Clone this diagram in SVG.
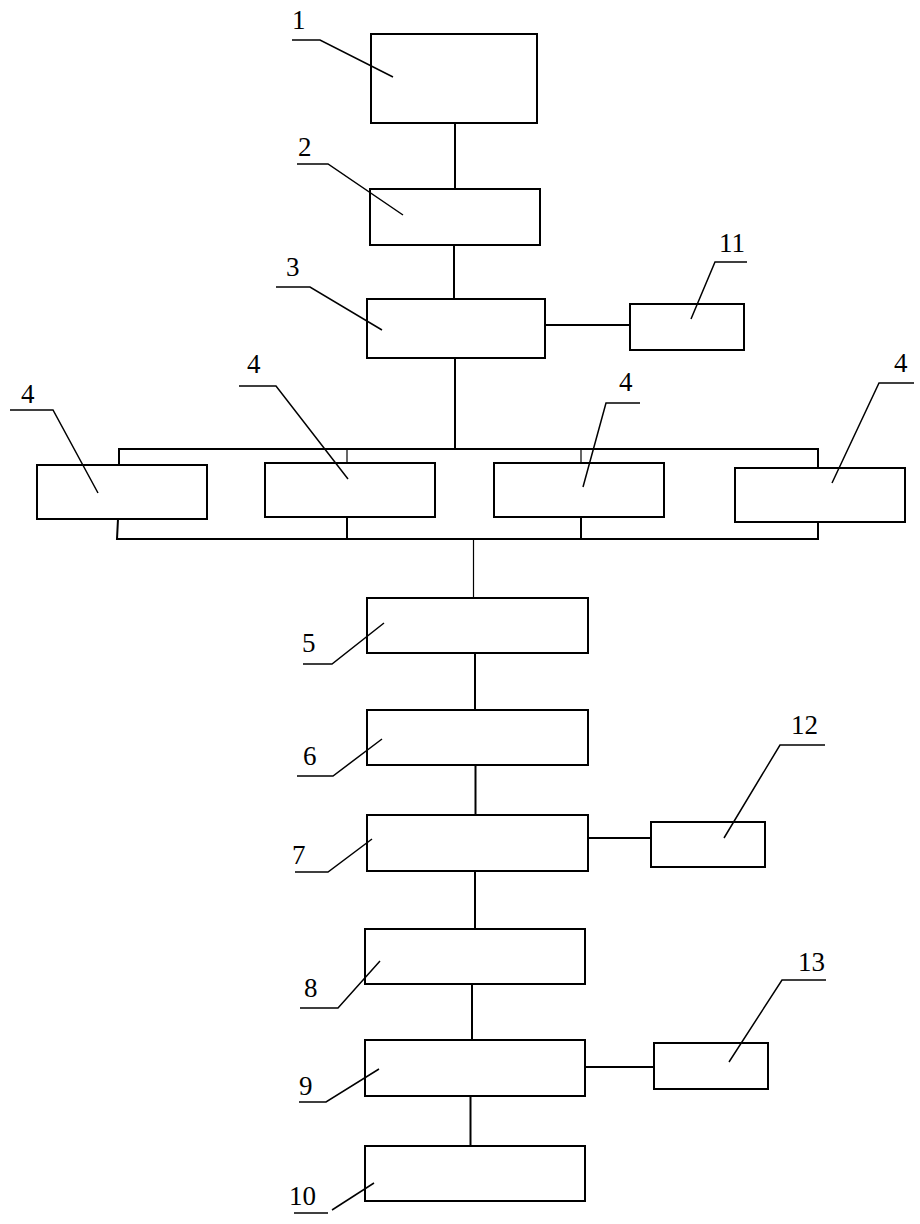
<svg xmlns="http://www.w3.org/2000/svg" width="920" height="1224" viewBox="0 0 920 1224">
<style>
.box{fill:#fff;stroke:#000;stroke-width:2}
.ln{fill:none;stroke:#000;stroke-width:2}
.thin{fill:none;stroke:#000;stroke-width:1.2}
.ld{fill:none;stroke:#000;stroke-width:1.5}
.lb{font-family:"Liberation Serif","Times New Roman",serif;font-size:27px;fill:#000}
</style>
<rect width="920" height="1224" fill="#fff"/>
<g id="connectors">
<line class="ln" x1="455" y1="123" x2="455" y2="189"/>
<line class="ln" x1="454" y1="245" x2="454" y2="299"/>
<line class="ln" x1="545" y1="325" x2="630" y2="325"/>
<line class="ln" x1="455" y1="358" x2="455" y2="449"/>
<polyline class="ln" points="119,465 119,449 818,449 818,468"/>
<line class="thin" x1="347" y1="449" x2="347" y2="463"/>
<line class="thin" x1="581" y1="449" x2="581" y2="463"/>
<polyline class="ln" points="118,519 117,539 818,539 818,522"/>
<line class="ln" x1="347" y1="517" x2="347" y2="539"/>
<line class="ln" x1="581" y1="517" x2="581" y2="539"/>
<line class="thin" x1="473.5" y1="539" x2="473.5" y2="598"/>
<line class="ln" x1="475" y1="653" x2="475" y2="710"/>
<line class="ln" x1="475.5" y1="765" x2="475.5" y2="815"/>
<line class="ln" x1="589" y1="838" x2="651" y2="838"/>
<line class="ln" x1="475" y1="871" x2="475" y2="929"/>
<line class="ln" x1="472" y1="984" x2="472" y2="1040"/>
<line class="ln" x1="586" y1="1067" x2="654" y2="1067"/>
<line class="ln" x1="470.5" y1="1096" x2="470.5" y2="1146"/>
</g>
<g id="node1"><rect class="box" x="371" y="34" width="166" height="89"/><polyline class="ld" points="292,40 320,40 393,77"/><text class="lb" x="292" y="29">1</text></g>
<g id="node2"><rect class="box" x="370" y="189" width="170" height="56"/><polyline class="ld" points="297,164 328,164 403,215"/><text class="lb" x="298" y="156">2</text></g>
<g id="node3"><rect class="box" x="367" y="299" width="178" height="59"/><polyline class="ld" points="276,287 310,287 382,330"/><text class="lb" x="286" y="276">3</text></g>
<g id="node11"><rect class="box" x="630" y="304" width="114" height="46"/><polyline class="ld" points="747,262 715,262 691,319"/><text class="lb" x="719" y="252">11</text></g>
<g id="node4a"><rect class="box" x="37" y="465" width="170" height="54"/><polyline class="ld" points="10,410 53,410 98,493"/><text class="lb" x="21" y="403">4</text></g>
<g id="node4b"><rect class="box" x="265" y="463" width="170" height="54"/><polyline class="ld" points="239,386 276,386 348,479"/><text class="lb" x="247" y="373">4</text></g>
<g id="node4c"><rect class="box" x="494" y="463" width="170" height="54"/><polyline class="ld" points="640,403 606,403 583,487"/><text class="lb" x="619" y="391">4</text></g>
<g id="node4d"><rect class="box" x="735" y="468" width="170" height="54"/><polyline class="ld" points="914,383 879,383 832,483"/><text class="lb" x="894" y="372">4</text></g>
<g id="node5"><rect class="box" x="367" y="598" width="221" height="55"/><polyline class="ld" points="303,664 332,664 384,623"/><text class="lb" x="302" y="652">5</text></g>
<g id="node6"><rect class="box" x="367" y="710" width="221" height="55"/><polyline class="ld" points="297,776 333,776 382,739"/><text class="lb" x="303" y="765">6</text></g>
<g id="node7"><rect class="box" x="367" y="815" width="221" height="56"/><polyline class="ld" points="295,872 328,872 372,839"/><text class="lb" x="292" y="864">7</text></g>
<g id="node12"><rect class="box" x="651" y="822" width="114" height="45"/><polyline class="ld" points="825,745 780,745 724,838"/><text class="lb" x="791" y="734">12</text></g>
<g id="node8"><rect class="box" x="365" y="929" width="220" height="55"/><polyline class="ld" points="300,1008 338,1008 380,961"/><text class="lb" x="304" y="997">8</text></g>
<g id="node9"><rect class="box" x="365" y="1040" width="220" height="56"/><polyline class="ld" points="299,1102 326,1102 379,1069"/><text class="lb" x="299" y="1095">9</text></g>
<g id="node13"><rect class="box" x="654" y="1043" width="114" height="46"/><polyline class="ld" points="826,980 782,980 729,1062"/><text class="lb" x="798" y="971">13</text></g>
<g id="node10"><rect class="box" x="365" y="1146" width="220" height="55"/><line class="ld" x1="294" y1="1213" x2="328" y2="1213"/><line class="ld" x1="332" y1="1210" x2="374" y2="1183"/><text class="lb" x="289" y="1205">10</text></g>
</svg>
